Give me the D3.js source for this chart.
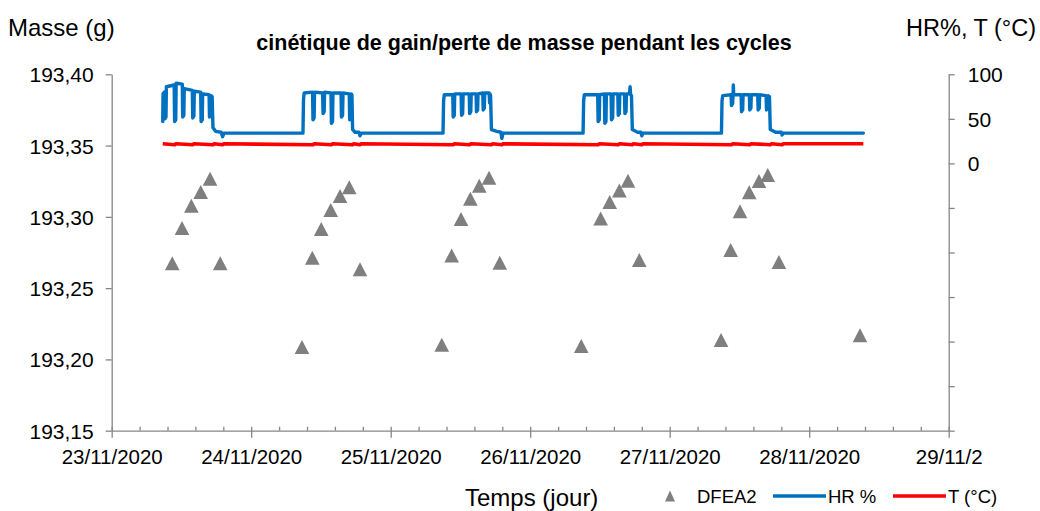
<!DOCTYPE html>
<html>
<head>
<meta charset="utf-8">
<script src="https://cdn.jsdelivr.net/npm/d3@7"></script>
<style>
  body { margin: 0; background: #fff; }
  svg { display: block; }
  text { font-family: "Liberation Sans", Arial, sans-serif; fill: #000; }
</style>
</head>
<body>
<svg id="chart" width="1040" height="511"></svg>
<script>
// ---- data -------------------------------------------------------------
// time is expressed in days elapsed since 23/11/2020 00:00
const startDate = new Date(2020, 10, 23);
const dayLabels = ["23/11/2020", "24/11/2020", "25/11/2020", "26/11/2020", "27/11/2020", "28/11/2020", "29/11/2"];

const massTicks = [193.15, 193.20, 193.25, 193.30, 193.35, 193.40];
const rhTicks = [-300, -250, -200, -150, -100, -50, 0, 50, 100];

// DFEA2 sample weighings
const massTimes = [
  0.434, 0.504, 0.571, 0.638, 0.705, 0.778,
  1.364, 1.438, 1.502, 1.570, 1.637, 1.703, 1.780,
  2.366, 2.437, 2.504, 2.571, 2.635, 2.705, 2.782,
  3.366, 3.505, 3.570, 3.639, 3.701, 3.782,
  4.368, 4.437, 4.504, 4.570, 4.640, 4.703, 4.783,
  5.364
];
const massValues = [
  193.2674, 193.2922, 193.3078, 193.3174, 193.3268, 193.2674,
  193.2087, 193.2713, 193.2915, 193.3048, 193.3146, 193.3207, 193.2632,
  193.2103, 193.2729, 193.2985, 193.3127, 193.3218, 193.3274, 193.2678,
  193.2094, 193.2988, 193.3104, 193.3185, 193.3254, 193.2697,
  193.2136, 193.2768, 193.3039, 193.3172, 193.3252, 193.3294, 193.2683,
  193.2169
];

// relative humidity record [day, HR %]
const hrRecord = [
  [0.366,47],[0.368,78],[0.378,80],[0.381,50],[0.389,52],[0.392,86],[0.448,88],[0.451,47],[0.459,49],[0.462,90],
  [0.506,89],[0.509,52],[0.517,54],[0.520,84],[0.578,82],[0.581,51],[0.589,53],[0.592,81],[0.638,80],[0.641,47],
  [0.649,49],[0.652,78],[0.698,77],[0.701,52],[0.709,55],[0.712,76],[0.720,75],[0.726,40],[0.745,36],[0.785,35],
  [0.795,30],[0.805,34],
  [1.371,34],[1.375,72],[1.380,79],[1.440,80],[1.443,49],[1.451,51],[1.454,80],[1.512,79],[1.515,56],[1.523,58],
  [1.526,80],[1.572,79],[1.575,45],[1.583,47],[1.586,79],[1.644,79],[1.647,52],[1.655,54],[1.658,79],[1.703,78],
  [1.706,49],[1.714,52],[1.717,78],[1.722,77],[1.727,38],[1.745,35],[1.772,35],[1.780,31],[1.790,34],
  [2.375,34],[2.379,70],[2.384,77],[2.445,77],[2.448,52],[2.456,54],[2.459,78],[2.505,78],[2.508,54],[2.516,56],
  [2.519,78],[2.563,78],[2.566,56],[2.574,58],[2.577,78],[2.612,78],[2.615,58],[2.623,60],[2.626,78],[2.660,79],
  [2.663,60],[2.671,62],[2.674,79],[2.706,79],[2.709,68],[2.712,78],[2.716,76],[2.722,38],[2.760,36],[2.790,35],
  [2.797,28],[2.805,34],
  [3.379,34],[3.383,70],[3.388,77],[3.484,77],[3.487,47],[3.495,49],[3.498,77],[3.532,78],[3.535,45],[3.543,47],
  [3.546,78],[3.580,78],[3.583,49],[3.591,51],[3.594,78],[3.628,78],[3.631,54],[3.639,56],[3.642,78],[3.676,78],
  [3.679,56],[3.687,58],[3.690,78],[3.712,78],[3.716,86],[3.720,77],[3.726,76],[3.732,38],[3.770,35],[3.793,35],
  [3.800,31],[3.808,34],
  [4.371,34],[4.375,70],[4.380,76],[4.440,77],[4.443,65],[4.451,67],[4.454,76],[4.456,88],[4.459,77],[4.512,77],
  [4.515,58],[4.523,60],[4.526,77],[4.571,77],[4.574,60],[4.582,62],[4.585,77],[4.631,77],[4.634,60],[4.642,62],
  [4.645,77],[4.691,76],[4.694,60],[4.702,62],[4.705,76],[4.715,75],[4.721,38],[4.760,35],[4.800,35],[4.806,32],
  [4.815,34],[5.388,34]
];

// chamber temperature record [day, °C]
const tempRecord = [
  [0.366,22],[0.451,21],[0.460,22],[0.581,21],[0.590,22],[0.726,21],[0.735,22],[0.795,21],[0.804,22],
  [1.443,21],[1.452,22],[1.575,21],[1.584,22],[1.727,21],[1.736,22],[1.780,21],[1.789,22],
  [2.448,21],[2.457,22],[2.566,21],[2.575,22],[2.722,21],[2.731,22],[2.797,21],[2.806,22],
  [3.487,21],[3.496,22],[3.631,21],[3.640,22],[3.732,21],[3.741,22],[3.800,21],[3.809,22],
  [4.443,21],[4.452,22],[4.574,21],[4.583,22],[4.721,21],[4.730,22],[4.806,21],[4.815,22],
  [5.388,22]
];

// ---- layout ---------------------------------------------------------------
const plot = { left: 111.7, right: 948.7, top: 74.3, bottom: 430.7 };
const axisColor = "#868686";
const hrColor = "#0070C0";
const tColor = "#FF0000";
const markColor = "#7F7F7F";

const toDate = d => new Date(startDate.getTime() + d * 864e5);

const svg = d3.select("#chart");

const x = d3.scaleTime()
  .domain([startDate, toDate(6)])
  .range([plot.left, plot.right]);
const yMass = d3.scaleLinear().domain([193.15, 193.40]).range([plot.bottom, plot.top]);
const yRh = d3.scaleLinear().domain([-300, 100]).range([plot.bottom, plot.top]);

const fr = d3.formatLocale({ decimal: ",", thousands: " ", grouping: [3], currency: ["", " €"] });
const fmtMass = fr.format(".2f");

// ---- axes -----------------------------------------------------------------
// left (mass)
const gLeft = svg.append("g")
  .attr("transform", `translate(${plot.left},0)`)
  .call(d3.axisLeft(yMass).tickValues(massTicks).tickFormat(fmtMass).tickSizeInner(6).tickSizeOuter(0).tickPadding(12));
gLeft.selectAll("text").style("font-size", "21px").attr("dy", "0.36em");

// right (HR / T)
const gRight = svg.append("g")
  .attr("transform", `translate(${plot.right},0)`)
  .call(d3.axisRight(yRh).tickValues(rhTicks).tickFormat(d => d >= 0 ? d : "").tickSizeInner(6).tickSizeOuter(0).tickPadding(13));
gRight.selectAll("text").style("font-size", "21px").attr("dy", "0.36em");

// bottom (time): minor ticks every 0.2 day inside, major ticks each day
const minorTicks = d3.range(1, 30).filter(i => i % 5 !== 0).map(i => toDate(i / 5));
svg.append("g")
  .attr("transform", `translate(0,${plot.bottom})`)
  .call(d3.axisTop(x).tickValues(minorTicks).tickFormat("").tickSizeInner(4).tickSizeOuter(0))
  .call(g => g.select(".domain").remove());

const majorTicks = d3.range(0, 7).map(toDate);
const gBottom = svg.append("g")
  .attr("transform", `translate(0,${plot.bottom})`)
  .call(d3.axisBottom(x).tickValues(majorTicks).tickFormat((d, i) => dayLabels[i]).tickSizeInner(7).tickSizeOuter(0).tickPadding(12));
gBottom.selectAll(".tick line").attr("y1", -4);
gBottom.selectAll("text").style("font-size", "20.5px");

svg.selectAll(".domain, .tick line").attr("stroke", axisColor).attr("stroke-width", 1.3);
svg.selectAll(".tick text").attr("fill", "#000");

// ---- series ---------------------------------------------------------------
const lineRh = d3.line().x(d => x(toDate(d[0]))).y(d => yRh(d[1]));

svg.append("path")
  .datum(tempRecord)
  .attr("fill", "none")
  .attr("stroke", tColor)
  .attr("stroke-width", 3.6)
  .attr("stroke-linejoin", "round")
  .attr("d", lineRh);

svg.append("path")
  .datum(hrRecord)
  .attr("fill", "none")
  .attr("stroke", hrColor)
  .attr("stroke-width", 3.4)
  .attr("stroke-linejoin", "round")
  .attr("stroke-linecap", "round")
  .attr("d", lineRh);

const tri = (cx, cy, h, w) => `M${cx},${cy - h / 2}L${cx + w / 2},${cy + h / 2}L${cx - w / 2},${cy + h / 2}Z`;

svg.append("g")
  .selectAll("path")
  .data(massTimes.map((t, i) => [t, massValues[i]]))
  .join("path")
  .attr("fill", markColor)
  .attr("d", d => tri(x(toDate(d[0])), yMass(d[1]), 14, 14.6));

// ---- titles ---------------------------------------------------------------
svg.append("text").attr("x", 8).attr("y", 36).style("font-size", "24px").text("Masse (g)");
svg.append("text").attr("x", 1036).attr("y", 36).attr("text-anchor", "end").style("font-size", "23.5px").text("HR%, T (°C)");
svg.append("text").attr("x", 524).attr("y", 50).attr("text-anchor", "middle")
  .style("font-size", "21.5px").style("font-weight", "bold").text("cinétique de gain/perte de masse pendant les cycles");
svg.append("text").attr("x", 465).attr("y", 506).style("font-size", "24px").text("Temps (jour)");

// ---- legend ---------------------------------------------------------------
const legend = svg.append("g").attr("transform", "translate(0,496)");
legend.append("path").attr("fill", markColor).attr("d", tri(670, 0, 11, 10));
legend.append("text").attr("x", 697).attr("y", 7).style("font-size", "18.5px").text("DFEA2");
legend.append("line").attr("x1", 773).attr("x2", 826).attr("stroke", hrColor).attr("stroke-width", 3.6);
legend.append("text").attr("x", 828).attr("y", 7).style("font-size", "18.5px").text("HR %");
legend.append("line").attr("x1", 893).attr("x2", 946).attr("stroke", tColor).attr("stroke-width", 3.6);
legend.append("text").attr("x", 948).attr("y", 7).style("font-size", "18.5px").text("T (°C)");
</script>
</body>
</html>
